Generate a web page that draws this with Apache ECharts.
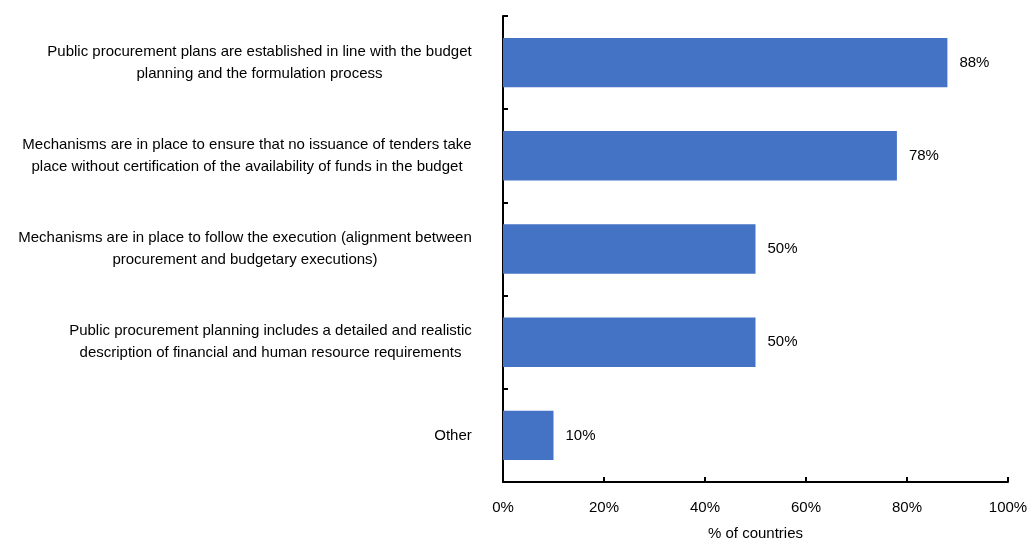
<!DOCTYPE html>
<html>
<head>
<meta charset="utf-8">
<title>Public procurement planning</title>
<script src="https://cdn.jsdelivr.net/npm/echarts@6/dist/echarts.min.js"></script>
<style>
  html, body { margin: 0; padding: 0; background: #fff; }
  #chart { width: 1028px; height: 541px; }
</style>
</head>
<body>
<div id="chart"></div>
<script>
// Survey items (top to bottom) and share of countries answering yes
const categories = [
  'Public procurement plans are established in line with the budget\nplanning and the formulation process',
  'Mechanisms are in place to ensure that no issuance of tenders take\nplace without certification of the availability of funds in the budget',
  'Mechanisms are in place to follow the execution (alignment between\nprocurement and budgetary executions)',
  'Public procurement planning includes a detailed and realistic\ndescription of financial and human resource requirements',
  'Other'
];
const shares = [88, 78, 50, 50, 10];
const xTicks = { min: 0, max: 100, step: 20 };
const xAxisTitle = '% of countries';

const FONT = '"Liberation Sans", Arial, sans-serif';
const FONT_SIZE = 15;

// Measure each label block so its lines can be centred on one another
const ctx = document.createElement('canvas').getContext('2d');
ctx.font = FONT_SIZE + 'px ' + FONT;
const rich = {};
categories.forEach((c, i) => {
  const w = Math.max(...c.split('\n').map(l => ctx.measureText(l).width));
  rich['c' + i] = { width: Math.ceil(w), align: 'center', fontSize: FONT_SIZE, fontFamily: FONT, color: '#000', lineHeight: 22 };
});

const chart = echarts.init(document.getElementById('chart'), null, { renderer: 'canvas' });
chart.setOption({
  animation: false,
  backgroundColor: '#fff',
  grid: { left: 503, right: 20, top: 16, bottom: 59, outerBoundsMode: 'none' },
  xAxis: {
    type: 'value',
    min: xTicks.min,
    max: xTicks.max,
    interval: xTicks.step,
    name: xAxisTitle,
    nameLocation: 'middle',
    nameGap: 44,
    nameTextStyle: { fontSize: FONT_SIZE, fontFamily: FONT, color: '#000' },
    axisLine: { show: true, lineStyle: { color: '#000', width: 2 } },
    axisTick: { show: true, inside: true, length: 5, lineStyle: { color: '#000', width: 2 } },
    axisLabel: { formatter: '{value}%', margin: 18, fontSize: FONT_SIZE, fontFamily: FONT, color: '#000' },
    splitLine: { show: false }
  },
  yAxis: {
    type: 'category',
    inverse: true,
    data: categories,
    axisLine: { show: true, lineStyle: { color: '#000', width: 2 } },
    axisTick: { show: true, inside: true, length: 5, lineStyle: { color: '#000', width: 2 } },
    axisLabel: {
      margin: 31,
      formatter: (v, i) => '{c' + i + '|' + v + '}',
      rich: rich
    }
  },
  series: [{
    type: 'bar',
    data: shares,
    barCategoryGap: '47%',
    itemStyle: { color: '#4472C4' },
    label: {
      show: true,
      position: 'right',
      distance: 12,
      formatter: '{c}%',
      fontSize: FONT_SIZE,
      fontFamily: FONT,
      color: '#000'
    }
  }]
});
</script>
</body>
</html>
